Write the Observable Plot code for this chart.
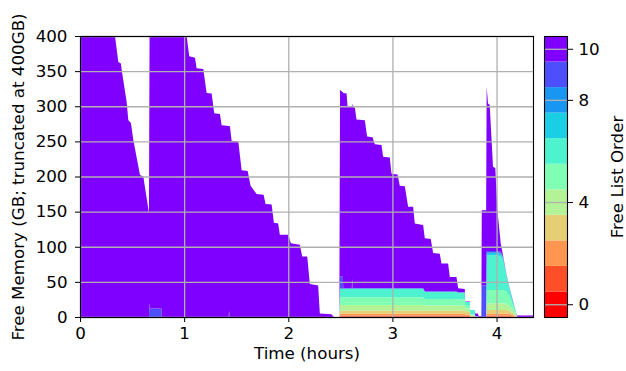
<!DOCTYPE html>
<html><head><meta charset="utf-8">
<script src="https://cdn.jsdelivr.net/npm/d3@7"></script>
<script src="https://cdn.jsdelivr.net/npm/@observablehq/plot@0.6"></script>
<style>
body{margin:0;background:#fff}
#wrap{position:relative;width:626px;height:371px;font-family:"DejaVu Sans"}
#main{position:absolute;left:0;top:0}
#cbar{position:absolute;left:540px;top:0}
</style></head><body><div id="wrap"><div id="main"></div><div id="cbar"></div></div>
<script>
// Time (hours)
const times = [
  0, 0.336, 0.368, 0.393, 0.400, 0.448, 0.464, 0.489, 0.512, 0.576,
  0.608, 0.662, 0.668, 0.674, 0.782, 0.786, 1.024, 1.049, 1.104, 1.120,
  1.184, 1.216, 1.264, 1.289, 1.344, 1.360, 1.428, 1.431, 1.440, 1.456,
  1.520, 1.552, 1.610, 1.638, 1.696, 1.763, 1.782, 1.840, 1.862, 1.903,
  1.919, 1.999, 2.025, 2.111, 2.134, 2.182, 2.207, 2.287, 2.303, 2.415,
  2.430, 2.440, 2.490, 2.497, 2.524, 2.528, 2.560, 2.569, 2.610, 2.614,
  2.620, 2.640, 2.655, 2.735, 2.757, 2.809, 2.831, 2.895, 2.911, 2.975,
  2.991, 3.049, 3.071, 3.119, 3.151, 3.199, 3.215, 3.295, 3.311, 3.368,
  3.391, 3.455, 3.471, 3.535, 3.551, 3.615, 3.631, 3.695, 3.700, 3.743,
  3.748, 3.790, 3.795, 3.820, 3.830, 3.854, 3.858, 3.900, 3.905, 3.918,
  3.934, 3.966, 3.988, 4.008, 4.040, 4.062, 4.095, 4.127, 4.158, 4.190,
  4.200, 4.350
];
// Free memory (GB) per free-list order, same length as times
const order0 = [
  0,0,0,0,0,0,0,0,0,0, 0,0,0,0,0,0,0,0,0,0, 0,0,0,0,0,0,0,0,0,0,
  0,0,0,0,0,0,0,0,0,0, 0,0,0,0,0,0,0,0,0,0,
  0,0,0,0.8,0.8,0.8,0.8,0.8,0.8,0.8,
  0.8,0.8,0.8,0.8,0.8,0.8,0.8,0.8,0.8,0.8,
  0.8,0.8,0.8,0.8,0.8,0.8,0.8,0.8,0.8,0.8,
  0.8,0.8,0.8,0.8,0.8,0.8,0.8,0.8,0.6,0.6,
  0.1,0.1,0,0,0,0,0,0,0.8,0.8,
  0.8,0.8,0.8,0.8,0.8,0.8,0.8,0.6,0.4,0.1,
  0,0
];
const order1 = [
  0,0,0,0,0,0,0,0,0,0, 0,0,0,0,0,0,0,0,0,0, 0,0,0,0,0,0,0,0,0,0,
  0,0,0,0,0,0,0,0,0,0, 0,0,0,0,0,0,0,0,0,0,
  0,0,0,1.2,1.2,1.2,1.2,1.2,1.2,1.2,
  1.2,1.2,1.2,1.2,1.2,1.2,1.2,1.2,1.2,1.2,
  1.2,1.2,1.2,1.2,1.2,1.2,1.2,1.2,1.2,1.2,
  1.2,1.2,1.2,1.2,1.2,1.2,1.2,1.2,1,1,
  0.2,0.2,0,0,0,0,0,0,1.2,1.2,
  1.2,1.2,1.2,1.2,1.2,1.2,1.2,1,0.6,0.2,
  0,0
];
const order2 = [
  0,0,0,0,0,0,0,0,0,0, 0,0,0,0,0,0,0,0,0,0, 0,0,0,0,0,0,0,0,0,0,
  0,0,0,0,0,0,0,0,0,0, 0,0,0,0,0,0,0,0,0,0,
  0,0,0,2.5,2.5,2.5,2.5,2.5,2.5,2.5,
  2.5,2.5,2.5,2.5,2.5,2.5,2.5,2.5,2.5,2.5,
  2.5,2.5,2.5,2.5,2.5,2.5,2.5,2.5,2.5,2.5,
  2.5,2.5,2.5,2.5,2.5,2.5,2.5,2.5,2,2,
  0.4,0.4,0,0,0,0,0,0,3,3,
  3,3,3,3,3,3,3,2.5,1.5,0.4,
  0,0
];
const order3 = [
  0,0,0,0,0,0,0,0,0,0, 0,0,0,0,0,0,0,0,0,0, 0,0,0,0,0,0,0,0,0,0,
  0,0,0,0,0,0,0,0,0,0, 0,0,0,0,0,0,0,0,0,0,
  0,0,0,4.5,4.5,4.5,4.5,4.5,4.5,4.5,
  4.5,4.5,4.5,4.5,4.5,4.5,4.5,4.5,4.5,4.5,
  4.5,4.5,4.5,4.5,4.5,4.5,4.5,4.5,4.5,4.5,
  4.5,4.5,4.5,4.5,4.5,4.5,4.5,4.5,3.5,3.5,
  0.6,0.6,0,0,0,0,0,0,5,5,
  5,5,5,5,5,5,5,4,2.5,0.6,
  0,0
];
const order4 = [
  0,0,0,0,0,0,0,0,0,0, 0,0,0,0,0,0,0,0,0,0, 0,0,0,0,0,0,0,0,0,0,
  0,0,0,0,0,0,0,0,0,0, 0,0,0,0,0,0,0,0,0,0,
  0,0,0,8,8,8,8,8,8,8,
  8,8,8,8,8,8,8,8,8,8,
  8,8,8,8,8,8,8,8,7.5,7.5,
  7.5,7.5,7.5,7.5,7.5,7.5,7,7,5,5,
  1,1,0,0,0,0,0,0,9.5,9.5,
  9.5,9.5,9.5,9.5,9.5,9.5,9,7,4.5,1,
  0,0
];
const order5 = [
  0,0,0,0,0,0,0,0,0,0, 0,0,0,0,0,0,0,0,0,0, 0,0,0,0,0,0,0,0,0,0,
  0,0,0,0,0,0,0,0,0,0, 0,0,0,0,0,0,0,0,0,0,
  0,0,0,11,11,11,11,11,11,11,
  11,11,11,11,11,11,11,11,11,11,
  11,11,11,11,11,11,11,11,9,9,
  9,9,9,9,9,9,9,9,5,5,
  1.7,1.7,0,0,0,0,0,0,19,19,
  19,19,19,19,19,19,17,13,7,1.2,
  0,0
];
const order6 = [
  0,0,0,0,0,0,0,0,0,0, 0,0,0,0,0,0,0,0,0,0, 0,0,0,0,0,0,0,0,0,0,
  0,0,0,0,0,0,0,0,0,0, 0,0,0,0,0,0,0,0,0,0,
  0,0,0,12,12,12,12,12,12,12,
  12,12,12,12,12,12,12,12,12,12,
  12,12,12,12,12,12,12,12,10,10,
  10,10,10,10,10,10,9.6,9.6,4.4,4.4,
  6,6,1,1,0,0,0,0,49.5,49.5,
  49.5,49.5,49.5,49.5,48.5,43.5,23,10,5.5,1,
  0,0
];
const order7 = [
  0,0,0,0,0,0,0,0,0,0, 0,0,0,0,0,0,0,0,0,0, 0,0,0,0,0,0,0,0,0,0,
  0,0,0,0,0,0,0,0,0,0, 0,0,0,0,0,0,0,0,0,0,
  0,0,0,0.3,0.3,0.3,0.3,0.3,0.3,0.3,
  0.3,0.3,0.3,0.3,0.3,0.3,0.3,0.3,0.3,0.3,
  0.3,0.3,0.3,0.3,0.3,0.3,0.3,0.3,0.3,0.3,
  0.3,0.3,0.3,0.3,0.3,0.3,0.2,0.2,0,0,
  0,0,0,0,0,0,0,0,3,3,
  3,3,3,3,3,2,0.5,0.3,0,0,
  0,0
];
const order8 = [
  0,0,0,0,0,0,0,0,0,0, 0,0,0,0,0,0,0,0,0,0, 0,0,0,0,0,0,0,0,0,0,
  0,0,0,0,0,0,0,0,0,0, 0,0,0,0,0,0,0,0,0,0,
  0,0,0,0.3,0.3,0.3,0.3,0.3,0.3,0.3,
  0.3,0.3,0.3,0.3,0.3,0.3,0.3,0.3,0.3,0.3,
  0.3,0.3,0.3,0.3,0.3,0.3,0.3,0.3,0.3,0.3,
  0.3,0.3,0.3,0.3,0.3,0.3,0.2,0.2,0,0,
  0,0,0,0,0,0,0,0,1,1,
  1,1,1,1,1,1,0.3,0.3,0,0,
  0,0
];
const order9 = [
  0,0,0,0,0,0,0,0,0,0,
  0,0,20,12,12,0,0,0,0,0,
  0,0,0,0,0,0,0,9,0,0,
  0,0,0,0,0,0,0,0,0,0,
  0,0,0,0,0,0,0,0,0,0,
  0,0,0,17,17,0.6,0.6,0.6,0.6,14,
  0.6,0.6,0.6,0.6,0.6,0.6,0.6,0.6,0.6,0.6,
  0.6,0.6,0.6,0.6,0.6,0.6,0.6,0.6,0.6,0.6,
  0.6,0.6,0.6,0.6,0.6,0.6,0.4,0.4,0,0,
  0,0,0,0,0,0,45,45,2,2,
  2,2,2,2,2,1,0.3,0.3,0,0,
  0,0
];
const order10 = [
  400,400,363,361,352,306,280,276,252,202,
  200,148,380,388,388,400,400,371,369,354,
  353,319,318,290,289,273,272,263,271,251,
  250,209,208,187,175,174,161,160,134,133,
  117,117,105,103,86,86,47,45,5,4,
  1,0,0,265.4,262.4,277.8,276.8,258.8,257.8,249.4,
  257.8,256.8,239.8,238.8,215.8,214.8,204.8,203.8,186.8,185.8,
  162.8,161.8,145.8,144.8,115.8,115.8,91.8,89.8,75.3,74.3,
  54.3,53.3,39.3,39.3,20.3,20.3,5.6,4.6,0.5,0.5,
  0,0,4,4,1,1,107,107,234,210,
  208,120,118,58,12,2,0.9,1,1,0.5,
  2,2
];

const orders = [0,1,2,3,4,5,6,7,8,9,10];
const orderColors = ["#ff0000","#ff4f28","#ff964f","#e6ce74","#b3f296","#80ffb4","#4df2ce","#1acee3","#1996f2","#4d4ffc","#8000ff"];
const xTicks = [0,1,2,3,4];
const yTicks = [0,50,100,150,200,250,300,350,400];
const cbarTicks = [0,4,8,10];
const xLabel = "Time (hours)";
const yLabel = "Free Memory (GB; truncated at 400GB)";
const cLabel = "Free List Order";

const series = [order0,order1,order2,order3,order4,order5,order6,order7,order8,order9,order10];
const rows = orders.flatMap(k => times.map((t, i) => ({t, order: k, gb: series[k][i]})));

const FS = 16.7;
const style = {fontFamily: "'DejaVu Sans'", fontSize: FS + "px", color: "black", background: "white", overflow: "visible"};
const colorScale = {type: "ordinal", domain: orders, range: orderColors};

const main = Plot.plot({
  width: 540, height: 371,
  marginLeft: 80, marginRight: 7, marginTop: 36, marginBottom: 54,
  style,
  x: {domain: [0, 4.35]},
  y: {domain: [0, 400]},
  color: colorScale,
  marks: [
    Plot.areaY(rows, {x: "t", y: "gb", z: "order", fill: "order", curve: "linear", clip: true}),
    Plot.gridX(xTicks, {stroke: "#b0b0b0", strokeOpacity: 1, strokeWidth: 1.3}),
    Plot.gridY(yTicks, {stroke: "#b0b0b0", strokeOpacity: 1, strokeWidth: 1.3}),
    Plot.axisX(xTicks, {tickSize: 5, tickPadding: 5, label: null, tickFormat: d => String(d), fontSize: FS}),
    Plot.axisY(yTicks, {tickSize: 5, tickPadding: 8, label: null, tickFormat: d => String(d), fontSize: FS}),
    Plot.frame({stroke: "black", strokeWidth: 1.1}),
    Plot.text([xLabel], {frameAnchor: "bottom", dy: 41, text: d => d, fontSize: FS, fill: "black"}),
    Plot.text([yLabel], {frameAnchor: "left", dx: -62, rotate: -90, textAnchor: "middle", text: d => d, fontSize: FS, fill: "black"})
  ]
});
document.getElementById("main").appendChild(main);

const cbar = Plot.plot({
  width: 86, height: 371,
  marginLeft: 4, marginRight: 59, marginTop: 36, marginBottom: 54,
  style,
  x: {domain: [0, 1], axis: null},
  y: {domain: [-0.5, 10.5], axis: null},
  color: colorScale,
  marks: [
    Plot.rect(orders, {x1: d => 0, x2: d => 1, y1: d => d - 0.5, y2: d => d + 0.5, fill: d => d}),
    Plot.ruleY(cbarTicks, {stroke: "#b0b0b0", strokeWidth: 1.3}),
    Plot.axisY(cbarTicks, {anchor: "right", tickSize: 5, tickPadding: 6, label: null, tickFormat: d => String(d), fontSize: FS}),
    Plot.frame({stroke: "black", strokeWidth: 1.1}),
    Plot.text([cLabel], {frameAnchor: "right", dx: 50, rotate: -90, textAnchor: "middle", text: d => d, fontSize: FS, fill: "black"})
  ]
});
document.getElementById("cbar").appendChild(cbar);
</script></body></html>
